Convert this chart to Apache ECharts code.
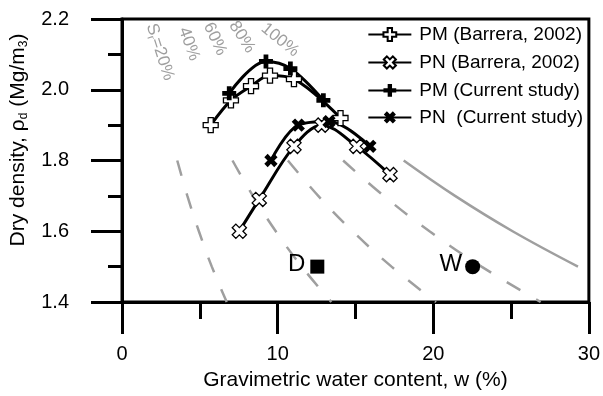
<!DOCTYPE html>
<html><head><meta charset="utf-8">
<script src="https://cdn.jsdelivr.net/npm/echarts@6/dist/echarts.min.js"></script>
<style>html,body{margin:0;padding:0;background:#fff}#c{width:603px;height:396px}</style>
</head><body><div id="c"></div>
<script>
// ---- data ----
const xTicks = [0, 10, 20, 30];
const yTicks = [1.4, 1.6, 1.8, 2.0, 2.2];

const pmBarreraW   = [5.70, 7.00, 8.29, 9.51, 11.05, 14.04];
const pmBarreraRho = [1.90, 1.97, 2.01, 2.04, 2.03, 1.92];
const pnBarreraW   = [7.54, 8.82, 11.05, 12.83, 15.08, 17.22];
const pnBarreraRho = [1.60, 1.69, 1.84, 1.90, 1.84, 1.76];
const pmCurrentW   = [6.89, 9.25, 10.82, 12.94];
const pmCurrentRho = [1.99, 2.08, 2.06, 1.97];
const pnCurrentW   = [9.57, 11.33, 13.30, 15.93];
const pnCurrentRho = [1.80, 1.90, 1.91, 1.84];

// saturation lines (w %, dry density)
const satRho  = [1.8, 1.7, 1.6, 1.5, 1.4];
const sat20W  = [3.55, 4.20, 4.94, 5.77, 6.73];
const sat40W  = [7.10, 8.41, 9.88, 11.55, 13.45];
const sat60W  = [10.66, 12.61, 14.82, 17.32, 20.18];
const sat80W  = [14.21, 16.82, 19.76, 23.10, 26.90];
const sat100Rho = [1.8, 1.7, 1.6, 1.5];
const sat100W = [18.1, 21.4, 25.1, 29.3];
const satLabels = ['20%', '40%', '60%', '80%', '100%'];

const pointNames = ['D', 'W'];
const pointW   = [12.55, 22.53];
const pointRho = [1.50, 1.50];

const legendNames = ['PM (Barrera, 2002)', 'PN (Barrera, 2002)', 'PM (Current study)', 'PN  (Current study)'];

// ---- helpers ----
const zip = (a, b) => a.map((v, i) => [v, b[i]]);
const FONT = 'Liberation Sans, Arial, sans-serif';
const PLUS = 'path://M3.3,0H6.7V3.3H10V6.7H6.7V10H3.3V6.7H0V3.3H3.3Z';
const GRAY = '#9f9f9f';

function dataSeries(name, w, rho, hollow, rotate) {
  return {
    name, type: 'line', data: zip(w, rho),
    smooth: 0.35,
    symbol: PLUS, symbolSize: hollow ? 15 : 14, symbolRotate: rotate,
    showAllSymbol: true,
    lineStyle: { color: '#000', width: 3 },
    itemStyle: hollow ? { color: '#fff', borderColor: '#000', borderWidth: 1.3 } : { color: '#000', borderWidth: 0 },
    z: 5
  };
}
function satSeries(w, rho, dashed) {
  return {
    type: 'line', data: zip(w, rho), smooth: 0.4, symbol: 'none', silent: true,
    lineStyle: { color: GRAY, width: 2.5, type: dashed ? [16, 18] : 'solid' }, z: 2
  };
}

const sub = { fontFamily: FONT, fontSize: 12, verticalAlign: 'bottom', lineHeight: 14 };

const chart = echarts.init(document.getElementById('c'), null, { renderer: 'canvas' });
chart.setOption({
  animation: false,
  backgroundColor: '#fff',
  textStyle: { fontFamily: FONT },
  grid: { left: 122, right: 14, top: 19, bottom: 91, show: true, borderColor: '#000', borderWidth: 3 },
  xAxis: {
    type: 'value', min: xTicks[0], max: xTicks[xTicks.length - 1], interval: 10,
    axisLine: { lineStyle: { color: '#000', width: 3 } },
    axisTick: { inside: false, length: 32, lineStyle: { width: 3, color: '#000' } },
    minorTick: { show: true, splitNumber: 2, length: 17, lineStyle: { width: 3, color: '#000' } },
    splitLine: { show: false },
    axisLabel: { color: '#000', fontSize: 20, margin: 42, fontFamily: FONT },
    name: 'Gravimetric water content, w (%)', nameLocation: 'middle', nameGap: 68,
    nameTextStyle: { color: '#000', fontSize: 21, fontFamily: FONT }
  },
  yAxis: {
    type: 'value', min: yTicks[0], max: yTicks[yTicks.length - 1], interval: 0.2,
    axisLine: { lineStyle: { color: '#000', width: 3 } },
    axisTick: { inside: false, length: 31, lineStyle: { width: 3, color: '#000' } },
    minorTick: { show: true, splitNumber: 2, length: 14, lineStyle: { width: 3, color: '#000' } },
    splitLine: { show: false },
    axisLabel: { color: '#000', fontSize: 20, margin: 53, fontFamily: FONT, formatter: v => v.toFixed(1) }
  },
  legend: {
    data: legendNames, orient: 'vertical', right: 20, top: 25, padding: 0,
    itemWidth: 43, itemHeight: 16, itemGap: 8, align: 'left',
    textStyle: { fontSize: 19, color: '#000', fontFamily: FONT, padding: [0, 0, 0, 3] }
  },
  graphic: [
    { type: 'text', x: 18, y: 140, rotation: Math.PI / 2,
      style: { text: '{n|Dry density, ρ}{s|d}{n| (Mg/m}{s|3}{n|)}', align: 'center', verticalAlign: 'middle',
        fill: '#000', rich: { n: { fontFamily: FONT, fontSize: 21, fill: '#000', lineHeight: 24 }, s: Object.assign({}, sub, { fill: '#000' }) } } },
    { type: 'text', x: 160, y: 52, rotation: -72 * Math.PI / 180,
      style: { text: '{n|S}{s|r}{n|=' + satLabels[0] + '}', align: 'center', verticalAlign: 'middle',
        rich: { n: { fontFamily: FONT, fontSize: 17, fill: GRAY, lineHeight: 20 }, s: { fontFamily: FONT, fontSize: 11, fill: GRAY, verticalAlign: 'bottom', lineHeight: 12 } } } },
    { type: 'text', x: 189, y: 44, rotation: -70 * Math.PI / 180,
      style: { text: satLabels[1], align: 'center', verticalAlign: 'middle', font: '17px ' + FONT, fill: GRAY } },
    { type: 'text', x: 215, y: 39, rotation: -65 * Math.PI / 180,
      style: { text: satLabels[2], align: 'center', verticalAlign: 'middle', font: '17px ' + FONT, fill: GRAY } },
    { type: 'text', x: 242, y: 37, rotation: -57 * Math.PI / 180,
      style: { text: satLabels[3], align: 'center', verticalAlign: 'middle', font: '17px ' + FONT, fill: GRAY } },
    { type: 'text', x: 280, y: 40, rotation: -39 * Math.PI / 180,
      style: { text: satLabels[4], align: 'center', verticalAlign: 'middle', font: '17px ' + FONT, fill: GRAY } }
  ],
  series: [
    satSeries(sat20W, satRho, true),
    satSeries(sat40W, satRho, true),
    satSeries(sat60W, satRho, true),
    satSeries(sat80W, satRho, true),
    satSeries(sat100W, sat100Rho, false),
    dataSeries(legendNames[0], pmBarreraW, pmBarreraRho, true, 0),
    dataSeries(legendNames[1], pnBarreraW, pnBarreraRho, true, 45),
    dataSeries(legendNames[2], pmCurrentW, pmCurrentRho, false, 0),
    dataSeries(legendNames[3], pnCurrentW, pnCurrentRho, false, 45),
    { type: 'scatter', name: 'D', data: [[pointW[0], pointRho[0], pointNames[0]]], symbol: 'rect', symbolSize: 14,
      itemStyle: { color: '#000', opacity: 1 }, z: 6,
      label: { show: true, position: 'left', distance: 5, offset: [0, -2], formatter: p => p.data[2], fontSize: 24, color: '#000', fontFamily: FONT } },
    { type: 'scatter', name: 'W', data: [[pointW[1], pointRho[1], pointNames[1]]], symbol: 'circle', symbolSize: 15,
      itemStyle: { color: '#000', opacity: 1 }, z: 6,
      label: { show: true, position: 'left', distance: 3, offset: [0, -2], formatter: p => p.data[2], fontSize: 24, color: '#000', fontFamily: FONT } }
  ]
});
</script>
</body></html>
